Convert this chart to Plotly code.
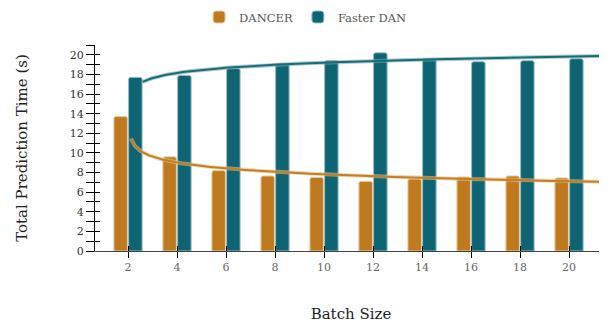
import numpy as np
import plotly.graph_objects as go

batch_sizes = [2, 4, 6, 8, 10, 12, 14, 16, 18, 20]
dancer = [13.7, 9.6, 8.2, 7.65, 7.5, 7.1, 7.35, 7.55, 7.65, 7.45]
faster_dan = [17.7, 17.9, 18.6, 19.1, 19.4, 20.2, 19.6, 19.3, 19.4, 19.6]
y_major = list(range(0, 21, 2))
y_minor = list(range(1, 22, 2))

ORANGE = "#BF7A1F"
TEAL = "#0E6472"
FONT = "DejaVu Serif"


def log_trend(vals, t0):
    # logarithmic regression on category index (index 0 has no log, so it is skipped)
    idx = np.arange(1, len(vals))
    b, a = np.polyfit(np.log(idx), np.array(vals[1:], dtype=float), 1)
    t = np.geomspace(t0, len(vals), 300)
    step = batch_sizes[1] - batch_sizes[0]
    return batch_sizes[0] + step * t, a + b * np.log(t)


fig = go.Figure()
fig.add_trace(go.Bar(x=batch_sizes, y=dancer, name="DANCER",
                     marker=dict(color=ORANGE, cornerradius=2,
                                 line=dict(color="rgba(235,205,160,1)", width=1))))
fig.add_trace(go.Bar(x=batch_sizes, y=faster_dan, name="Faster DAN",
                     marker=dict(color=TEAL, cornerradius=2,
                                 line=dict(color="rgba(150,190,200,1)", width=1))))

tx, ty = log_trend(dancer, 0.06)
fig.add_trace(go.Scatter(x=tx, y=ty, mode="lines", xaxis="x2", yaxis="y2",
                         line=dict(color="rgba(230,190,130,0.6)", width=4), showlegend=False, hoverinfo="skip"))
fig.add_trace(go.Scatter(x=tx, y=ty, mode="lines", xaxis="x2", yaxis="y2",
                         line=dict(color="#C27E25", width=2), showlegend=False))
tx, ty = log_trend(faster_dan, 0.3)
fig.add_trace(go.Scatter(x=tx, y=ty, mode="lines", xaxis="x2", yaxis="y2",
                         line=dict(color="rgba(120,170,180,0.6)", width=4), showlegend=False, hoverinfo="skip"))
fig.add_trace(go.Scatter(x=tx, y=ty, mode="lines", xaxis="x2", yaxis="y2",
                         line=dict(color="#1A6B78", width=2), showlegend=False))

xr = [0.653, 21.55]
yr = [0, 21]

fig.update_layout(
    width=599, height=317,
    margin=dict(l=87, r=0, t=37, b=74, autoexpand=False),
    paper_bgcolor="white", plot_bgcolor="white",
    font=dict(family=FONT, color="#333"),
    barmode="group", bargap=0.4, bargroupgap=0.08,
    legend=dict(orientation="h", xref="container", x=0.496, xanchor="center",
                yref="container", y=1 - 9 / 317, yanchor="middle",
                font=dict(family=FONT, size=11.5, color="#555"), itemwidth=30),
    xaxis=dict(range=xr, tickmode="array", tickvals=batch_sizes, automargin=False,
               ticks="outside", ticklen=6, tickcolor="black", tickwidth=1,
               showline=True, linecolor="#444", linewidth=1,
               showgrid=False, zeroline=False,
               tickfont=dict(family=FONT, size=11, color="#666"),
               title=dict(text="Batch Size", standoff=35,
                          font=dict(family=FONT, size=15, color="#222"))),
    xaxis2=dict(range=xr, overlaying="x", anchor="y2", side="bottom", automargin=False,
                tickmode="array", tickvals=batch_sizes, ticks="inside", ticklen=5,
                tickcolor="black", showticklabels=False, showline=False,
                showgrid=False, zeroline=False),
    yaxis=dict(range=yr, tickmode="array", tickvals=y_major, automargin=False,
               ticks="outside", ticklen=8, tickcolor="black", tickwidth=1,
               minor=dict(tickmode="array", tickvals=y_minor, ticks="outside",
                          ticklen=8, tickcolor="black", showgrid=False),
               showline=True, linecolor="black", linewidth=1,
               showgrid=False, zeroline=False,
               tickfont=dict(family=FONT, size=11, color="#333"),
               title=dict(text="Total Prediction Time (s)", standoff=38,
                          font=dict(family=FONT, size=15, color="#222"))),
    yaxis2=dict(range=yr, overlaying="y", anchor="x2", side="left", automargin=False,
                tickmode="array", tickvals=y_major, ticks="inside", ticklen=5,
                tickcolor="black",
                minor=dict(tickmode="array", tickvals=y_minor, ticks="inside",
                           ticklen=5, tickcolor="black", showgrid=False),
                showticklabels=False, showline=False,
                showgrid=False, zeroline=False),
)

fig.write_html("out.html")
